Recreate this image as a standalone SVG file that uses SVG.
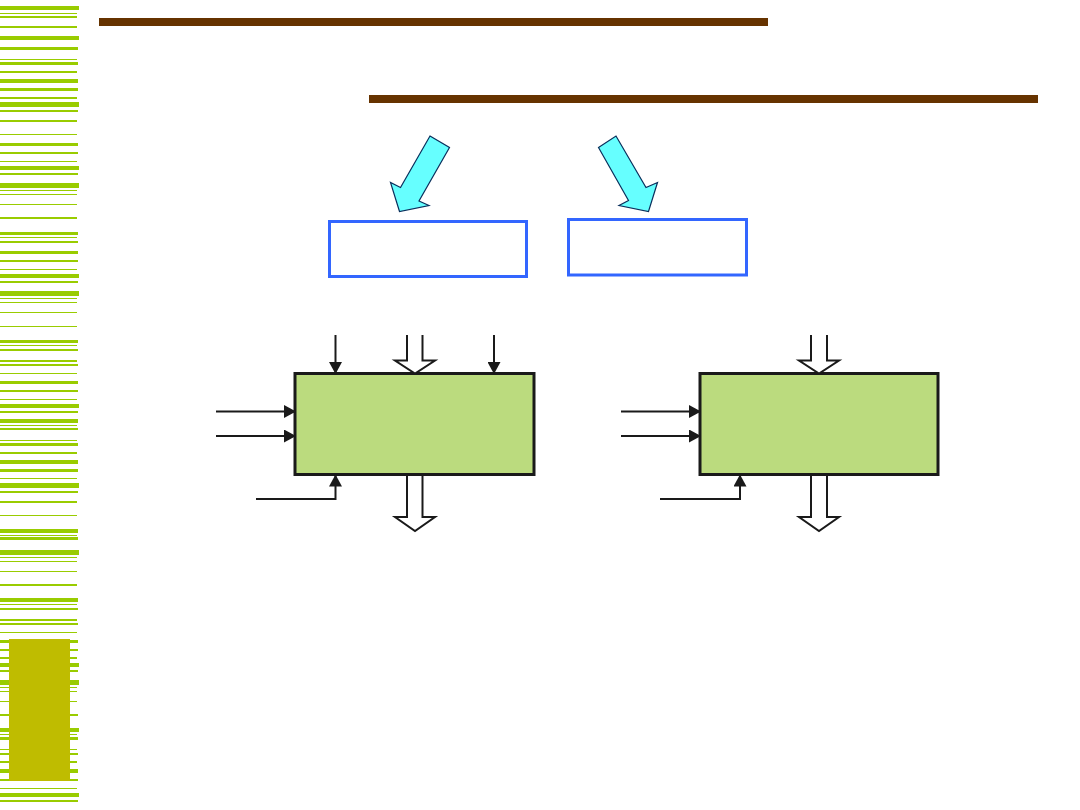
<svg xmlns="http://www.w3.org/2000/svg" width="1080" height="810" viewBox="0 0 1080 810">
<style>
.st{fill:#99CC00}
.bar{fill:#663300}
.cy{fill:#66FFFF;stroke:#0A2F5C;stroke-width:1.2;stroke-linejoin:miter}
.bb{fill:#FFFFFF;stroke:#3366FF;stroke-width:3}
.gb{fill:#BBDB7E;stroke:#1A1A1A;stroke-width:3}
.ln{fill:none;stroke:#1A1A1A;stroke-width:2}
.ho{fill:#FFFFFF;stroke:#1A1A1A;stroke-width:2;stroke-linejoin:miter}
</style>
<defs>
<marker id="ah" markerUnits="userSpaceOnUse" markerWidth="12" markerHeight="13" refX="11" refY="6.5" orient="auto">
<path d="M0,0 L12,6.5 L0,13 Z" fill="#1A1A1A"/>
</marker>
</defs>
<rect width="1080" height="810" fill="#FFFFFF"/>
<g id="stripes">
<rect class="st" x="0" y="6" width="79" height="4"/>
<rect class="st" x="0" y="13" width="77" height="1"/>
<rect class="st" x="0" y="16" width="77" height="2"/>
<rect class="st" x="0" y="26" width="77" height="2"/>
<rect class="st" x="0" y="36" width="79" height="4"/>
<rect class="st" x="0" y="47" width="78" height="3"/>
<rect class="st" x="0" y="59" width="77" height="1"/>
<rect class="st" x="0" y="62" width="78" height="3"/>
<rect class="st" x="0" y="71" width="77" height="2"/>
<rect class="st" x="0" y="79" width="78" height="4"/>
<rect class="st" x="0" y="88" width="78" height="3"/>
<rect class="st" x="0" y="97" width="77" height="2"/>
<rect class="st" x="0" y="102" width="79" height="5"/>
<rect class="st" x="0" y="110" width="78" height="2"/>
<rect class="st" x="0" y="120" width="77" height="2"/>
<rect class="st" x="0" y="134" width="77" height="1"/>
<rect class="st" x="0" y="143" width="78" height="3"/>
<rect class="st" x="0" y="152" width="78" height="2"/>
<rect class="st" x="0" y="161" width="77" height="1"/>
<rect class="st" x="0" y="166" width="79" height="4"/>
<rect class="st" x="0" y="173" width="78" height="2"/>
<rect class="st" x="0" y="183" width="79" height="5"/>
<rect class="st" x="0" y="190" width="77" height="1"/>
<rect class="st" x="0" y="194" width="77" height="1"/>
<rect class="st" x="0" y="204" width="77" height="1"/>
<rect class="st" x="0" y="217" width="77" height="2"/>
<rect class="st" x="0" y="232" width="78" height="3"/>
<rect class="st" x="0" y="237" width="77" height="1"/>
<rect class="st" x="0" y="241" width="78" height="2"/>
<rect class="st" x="0" y="251" width="78" height="3"/>
<rect class="st" x="0" y="260" width="78" height="2"/>
<rect class="st" x="0" y="269" width="77" height="1"/>
<rect class="st" x="0" y="274" width="79" height="4"/>
<rect class="st" x="0" y="281" width="78" height="2"/>
<rect class="st" x="0" y="291" width="79" height="5"/>
<rect class="st" x="0" y="298" width="77" height="1"/>
<rect class="st" x="0" y="302" width="77" height="1"/>
<rect class="st" x="0" y="312" width="77" height="1"/>
<rect class="st" x="0" y="326" width="77" height="1"/>
<rect class="st" x="0" y="340" width="78" height="3"/>
<rect class="st" x="0" y="345" width="77" height="1"/>
<rect class="st" x="0" y="349" width="78" height="2"/>
<rect class="st" x="0" y="360" width="77" height="2"/>
<rect class="st" x="0" y="364" width="78" height="2"/>
<rect class="st" x="0" y="373" width="77" height="1"/>
<rect class="st" x="0" y="381" width="78" height="3"/>
<rect class="st" x="0" y="390" width="78" height="2"/>
<rect class="st" x="0" y="399" width="77" height="1"/>
<rect class="st" x="0" y="404" width="79" height="4"/>
<rect class="st" x="0" y="411" width="78" height="2"/>
<rect class="st" x="0" y="419" width="78" height="4"/>
<rect class="st" x="0" y="425" width="77" height="1"/>
<rect class="st" x="0" y="428" width="78" height="2"/>
<rect class="st" x="0" y="440" width="77" height="1"/>
<rect class="st" x="0" y="443" width="78" height="3"/>
<rect class="st" x="0" y="452" width="77" height="2"/>
<rect class="st" x="0" y="460" width="78" height="4"/>
<rect class="st" x="0" y="469" width="78" height="3"/>
<rect class="st" x="0" y="478" width="77" height="1"/>
<rect class="st" x="0" y="483" width="79" height="5"/>
<rect class="st" x="0" y="491" width="78" height="2"/>
<rect class="st" x="0" y="501" width="77" height="2"/>
<rect class="st" x="0" y="515" width="77" height="1"/>
<rect class="st" x="0" y="529" width="78" height="4"/>
<rect class="st" x="0" y="535" width="77" height="1"/>
<rect class="st" x="0" y="537" width="78" height="3"/>
<rect class="st" x="0" y="550" width="79" height="5"/>
<rect class="st" x="0" y="557" width="77" height="1"/>
<rect class="st" x="0" y="561" width="77" height="1"/>
<rect class="st" x="0" y="571" width="77" height="1"/>
<rect class="st" x="0" y="584" width="77" height="2"/>
<rect class="st" x="0" y="598" width="78" height="4"/>
<rect class="st" x="0" y="604" width="77" height="1"/>
<rect class="st" x="0" y="608" width="78" height="2"/>
<rect class="st" x="0" y="619" width="77" height="2"/>
<rect class="st" x="0" y="623" width="78" height="2"/>
<rect class="st" x="0" y="632" width="77" height="1"/>
<rect class="st" x="0" y="640" width="78" height="3"/>
<rect class="st" x="0" y="649" width="78" height="2"/>
<rect class="st" x="0" y="657" width="77" height="2"/>
<rect class="st" x="0" y="663" width="79" height="4"/>
<rect class="st" x="0" y="670" width="78" height="2"/>
<rect class="st" x="0" y="680" width="79" height="5"/>
<rect class="st" x="0" y="687" width="77" height="1"/>
<rect class="st" x="0" y="691" width="77" height="1"/>
<rect class="st" x="0" y="701" width="77" height="1"/>
<rect class="st" x="0" y="714" width="78" height="2"/>
<rect class="st" x="0" y="728" width="79" height="4"/>
<rect class="st" x="0" y="734" width="77" height="1"/>
<rect class="st" x="0" y="737" width="78" height="3"/>
<rect class="st" x="0" y="749" width="77" height="1"/>
<rect class="st" x="0" y="753" width="78" height="2"/>
<rect class="st" x="0" y="761" width="77" height="2"/>
<rect class="st" x="0" y="769" width="78" height="4"/>
<rect class="st" x="0" y="779" width="78" height="2"/>
<rect class="st" x="0" y="788" width="77" height="1"/>
<rect class="st" x="0" y="793" width="79" height="4"/>
<rect class="st" x="0" y="800" width="78" height="2"/>
</g>
<rect id="olive-block" x="9" y="639" width="61" height="142" fill="#BFBC00"/>
<g id="title-bars">
<rect class="bar" x="99" y="18" width="669" height="8"/>
<rect class="bar" x="369" y="95" width="669" height="8"/>
</g>
<g id="cyan-arrows">
<polygon class="cy" points="430,136 449.5,147.5 419,201 429,205.5 399.5,211.5 390.5,182.5 400.5,187.5"/>
<polygon class="cy" points="598.5,147.5 616,136 646,187.5 657.5,182.5 648.5,211.5 619,205.5 628.5,200.5"/>
</g>
<g id="box-a"><rect class="bb" x="329.5" y="221.5" width="197" height="55"/></g>
<g id="box-b"><rect class="bb" x="568.5" y="219.5" width="178" height="55.5"/></g>
<g id="block-1"><rect class="gb" x="295" y="373.5" width="239" height="101"/></g>
<g id="block-2"><rect class="gb" x="700" y="373.5" width="238" height="101"/></g>
<g id="connectors">
<line class="ln" x1="335.5" y1="335" x2="335.5" y2="373" marker-end="url(#ah)"/>
<line class="ln" x1="494" y1="335" x2="494" y2="373" marker-end="url(#ah)"/>
<path class="ho" d="M407,335 L407,360.5 L395,360.5 L415,373.5 L435,360.5 L422.5,360.5 L422.5,335"/>
<path class="ho" d="M407,476 L407,517 L395,517 L415,531 L435,517 L422.5,517 L422.5,476"/>
<line class="ln" x1="216" y1="411.5" x2="295" y2="411.5" marker-end="url(#ah)"/>
<line class="ln" x1="216" y1="436" x2="295" y2="436" marker-end="url(#ah)"/>
<polyline class="ln" points="256,499 335.5,499 335.5,475.5" marker-end="url(#ah)"/>
<path class="ho" d="M811,335 L811,360.5 L799,360.5 L819,373.5 L839,360.5 L827,360.5 L827,335"/>
<path class="ho" d="M811,476 L811,517 L799,517 L819,531 L839,517 L827,517 L827,476"/>
<line class="ln" x1="621" y1="411.5" x2="700" y2="411.5" marker-end="url(#ah)"/>
<line class="ln" x1="621" y1="436" x2="700" y2="436" marker-end="url(#ah)"/>
<polyline class="ln" points="660,499 740,499 740,475.5" marker-end="url(#ah)"/>
</g>
</svg>
